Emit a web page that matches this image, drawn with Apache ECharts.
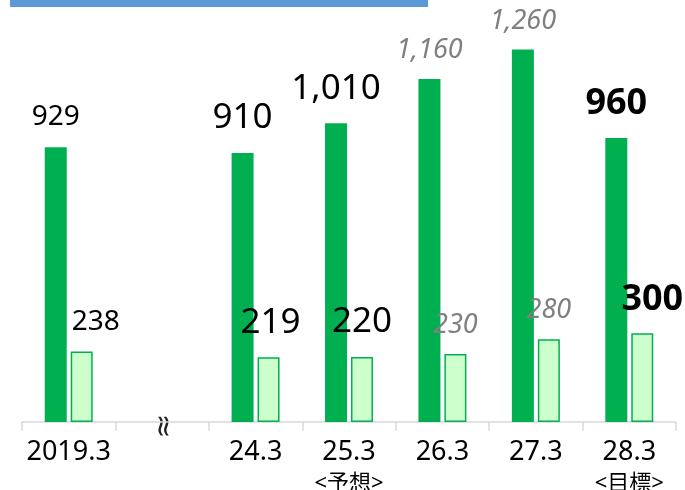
<!DOCTYPE html>
<html>
<head>
<meta charset="utf-8">
<script src="https://cdn.jsdelivr.net/npm/echarts@6/dist/echarts.min.js"></script>
<style>
  html, body { margin: 0; padding: 0; background: #fff; }
  #main { width: 685px; height: 490px; }
</style>
</head>
<body>
<div id="main"></div>
<script>
  // 期末の値（左が濃い緑、右が薄い緑）
  var categories = ['2019.3', '', '24.3', '25.3', '26.3', '27.3', '28.3']
  var subLabels = ['', '', '', '<予想>', '', '', '<目標>']
  var darkValues = [929, null, 910, 1010, 1160, 1260, 960]
  var lightValues = [238, null, 219, 220, 230, 280, 300]
  var yMin = 0
  var yMax = 1400

  var FONT = '"Noto Sans", "Noto Sans CJK JP", sans-serif'

  // 数値ラベルの書式（実績 / 計画 / 見通し / 目標）
  var styleOld = { fontSize: 28, color: '#000', fontWeight: 'normal', fontStyle: 'normal', distance: 16 }
  var stylePlan = { fontSize: 35, color: '#000', fontWeight: 'normal', fontStyle: 'normal', distance: 17 }
  var styleFcst = { fontSize: 27, color: '#7f7f7f', fontWeight: 'normal', fontStyle: 'italic', distance: 15 }
  var styleGoal = { fontSize: 36, color: '#000', fontWeight: 'bold', fontStyle: 'normal', distance: 16 }
  var labelKinds = [styleOld, null, stylePlan, stylePlan, styleFcst, styleFcst, styleGoal]
  var lightShift = [14, 0, 2, 0, 0, 0, 10]

  function makeData (values, shifts) {
    return values.map(function (v, i) {
      if (v === null) return null
      var s = labelKinds[i]
      return {
        value: v,
        label: {
          show: true,
          position: 'top',
          distance: s.distance,
          offset: [shifts ? shifts[i] : 0, 0],
          fontSize: s.fontSize,
          color: s.color,
          fontWeight: s.fontWeight,
          fontStyle: s.fontStyle,
          fontFamily: FONT,
          formatter: function (p) {
            return p.value.toLocaleString('en-US')
          }
        }
      }
    })
  }

  var chart = echarts.init(document.getElementById('main'))

  var option = {
    animation: false,
    backgroundColor: '#fff',
    grid: { left: 22, right: 9, top: 8, bottom: 68, containLabel: false, outerBoundsMode: 'none' },
    xAxis: {
      type: 'category',
      data: categories,
      axisLine: { show: true, lineStyle: { color: '#d9d9d9', width: 1.5 } },
      axisTick: { show: true, length: 9, lineStyle: { color: '#d9d9d9', width: 1.5 } },
      axisLabel: {
        margin: 15,
        interval: 0,
        fontFamily: FONT,
        formatter: function (v, i) {
          if (subLabels[i]) return '{a|' + v + '}\n{b|' + subLabels[i] + '}'
          return '{a|' + v + '}'
        },
        rich: {
          a: { fontSize: 27, lineHeight: 30, color: '#000', fontFamily: FONT },
          b: { fontSize: 22, lineHeight: 34, color: '#000', fontFamily: FONT }
        }
      }
    },
    yAxis: {
      type: 'value',
      min: yMin,
      max: yMax,
      show: false,
      splitLine: { show: false }
    },
    series: [
      {
        type: 'bar',
        barWidth: 22,
        barGap: '18%',
        itemStyle: { color: '#00b050' },
        data: makeData(darkValues, null)
      },
      {
        type: 'bar',
        barWidth: 22,
        itemStyle: { color: '#ccffcc', borderColor: '#00b050', borderWidth: 1.5 },
        data: makeData(lightValues, lightShift)
      }
    ]
  }

  chart.setOption(option)

  // 省略記号と上部の青帯
  var gapX = chart.convertToPixel({ xAxisIndex: 0 }, 1)
  var baseY = chart.convertToPixel({ yAxisIndex: 0 }, 0)
  chart.setOption({
    graphic: [
      {
        type: 'rect',
        shape: { x: 10, y: 0, width: 418, height: 7 },
        style: { fill: '#5b9bd5' }
      },
      {
        type: 'rect',
        shape: { x: gapX - 9, y: baseY - 3, width: 18, height: 6 },
        style: { fill: '#fff' }
      },
      {
        type: 'text',
        x: gapX,
        y: baseY + 4,
        rotation: -Math.PI / 2,
        style: {
          text: '≈',
          fontSize: 30,
          fontFamily: 'DejaVu Sans',
          fill: '#222',
          align: 'center',
          verticalAlign: 'middle'
        }
      }
    ]
  })
</script>
</body>
</html>
